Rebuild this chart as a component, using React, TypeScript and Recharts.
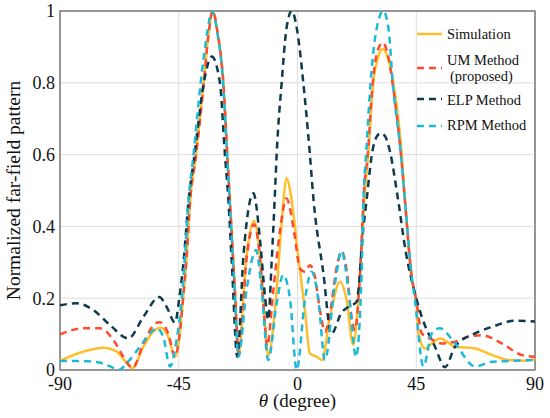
import { LineChart, Line, XAxis, YAxis, CartesianGrid, ReferenceArea, Legend, Label } from 'recharts';

// theta (degree) vs normalized far-field pattern
const thetaTicks = [-90, -45, 0, 45, 90];
const valueTicks = [0, 0.2, 0.4, 0.6, 0.8, 1];

const simulation: [number, number][] = [
  [-90, 0.026], [-81.2, 0.051], [-73.6, 0.062], [-68.5, 0.051], [-64.7, 0.019], [-62.5, 0.005],
  [-58.4, 0.065], [-54.5, 0.108], [-51.7, 0.118], [-49, 0.093], [-46.4, 0.037], [-44.5, 0.11],
  [-43.3, 0.204], [-42, 0.316], [-40.7, 0.47], [-38.5, 0.6], [-35.6, 0.8], [-33.8, 0.93],
  [-32.1, 1.0], [-30.3, 0.94], [-28.1, 0.8], [-26.6, 0.6], [-25.6, 0.47], [-23.7, 0.22],
  [-22.4, 0.04], [-19.3, 0.32], [-16.5, 0.416], [-14.2, 0.316], [-12.3, 0.13], [-11.1, 0.04],
  [-7.9, 0.223], [-6, 0.41], [-4.1, 0.535], [-2.8, 0.5], [0.3, 0.316], [2.8, 0.167],
  [4.7, 0.046], [7.3, 0.037], [9.2, 0.028], [12.3, 0.148], [16.1, 0.246], [18.6, 0.195],
  [21.1, 0.07], [23.7, 0.27], [25.6, 0.5], [26.8, 0.6], [28.7, 0.8], [30.5, 0.87],
  [32.3, 0.894], [34.2, 0.87], [36.3, 0.8], [39.5, 0.6], [40.7, 0.474], [43.3, 0.25],
  [45, 0.195], [45.8, 0.102], [48.3, 0.06], [50.9, 0.074], [54, 0.088], [59.7, 0.065],
  [67.3, 0.06], [73.6, 0.042], [79.9, 0.028], [86.2, 0.026], [90, 0.03],
];

const umMethod: [number, number][] = [
  [-90, 0.099], [-81.2, 0.116], [-74.8, 0.116], [-69.8, 0.084], [-66, 0.037], [-62.5, 0.006],
  [-58.4, 0.074], [-54.5, 0.125], [-52.4, 0.133], [-49, 0.102], [-46.4, 0.037], [-44.5, 0.11],
  [-43.3, 0.204], [-42, 0.316], [-40.7, 0.47], [-38.4, 0.6], [-35.5, 0.8], [-33.8, 0.93],
  [-32.1, 1.0], [-30.3, 0.94], [-28.1, 0.8], [-26.6, 0.6], [-25.6, 0.47], [-23.7, 0.22],
  [-22.2, 0.045], [-19.3, 0.31], [-16.5, 0.406], [-14.2, 0.31], [-12.5, 0.14], [-11.5, 0.065],
  [-9.2, 0.22], [-6.6, 0.39], [-4.2, 0.478], [-1.2, 0.38], [0.9, 0.283], [2.8, 0.274],
  [4.7, 0.292], [6.6, 0.26], [8.5, 0.167], [10.4, 0.107], [12.3, 0.158], [14.9, 0.288],
  [16.7, 0.33], [18.6, 0.279], [20.5, 0.148], [21.8, 0.111], [23.7, 0.27], [25.2, 0.5],
  [26.6, 0.6], [28.5, 0.8], [30.4, 0.89], [32.3, 0.912], [34.2, 0.88], [36, 0.8],
  [39.2, 0.6], [40.7, 0.474], [43.3, 0.26], [45, 0.195], [47.1, 0.102], [50.9, 0.085],
  [54.6, 0.074], [59.7, 0.079], [64.7, 0.093], [69.8, 0.097], [77.4, 0.074], [85, 0.042],
  [90, 0.037],
];

const elpMethod: [number, number][] = [
  [-90, 0.18], [-83.7, 0.186], [-77.4, 0.167], [-71, 0.125], [-64.1, 0.088], [-58.4, 0.148],
  [-52.4, 0.203], [-49.6, 0.176], [-46.4, 0.132], [-44.8, 0.2], [-43.2, 0.3], [-41.3, 0.47],
  [-39, 0.6], [-35.5, 0.8], [-32.5, 0.873], [-29.4, 0.8], [-27.5, 0.6], [-26.2, 0.474],
  [-24.9, 0.3], [-22.8, 0.037], [-20.5, 0.316], [-16.7, 0.492], [-14.2, 0.362], [-12.3, 0.204],
  [-11.1, 0.14], [-9.8, 0.3], [-8.5, 0.5], [-7.9, 0.6], [-6, 0.8], [-4.2, 0.95],
  [-2.2, 1.0], [0, 0.94], [2.2, 0.8], [4.7, 0.6], [6, 0.48], [9.8, 0.27],
  [12.8, 0.1], [16.7, 0.16], [19.3, 0.176], [22.4, 0.19], [23.2, 0.23], [24.5, 0.36],
  [26.2, 0.474], [28.4, 0.61], [30, 0.65], [31.6, 0.66], [33.3, 0.65], [35, 0.61],
  [38.2, 0.47], [41, 0.33], [45, 0.2], [47.1, 0.148], [52.1, 0.065], [55.9, 0.008],
  [59.7, 0.065], [67.3, 0.102], [73.6, 0.12], [82.4, 0.137], [90, 0.135],
];

const rpmMethod: [number, number][] = [
  [-90, 0.025], [-81.2, 0.025], [-74.8, 0.02], [-71, 0.01], [-67.9, 0.0], [-64, 0.025],
  [-59.7, 0.065], [-55.5, 0.105], [-53.4, 0.116], [-50.9, 0.093], [-48.3, 0.01], [-45.8, 0.084],
  [-43.9, 0.195], [-42.6, 0.32], [-41.3, 0.47], [-39.4, 0.6], [-36.7, 0.8], [-34.4, 0.93],
  [-32.4, 1.0], [-30.4, 0.94], [-28.2, 0.8], [-26.7, 0.6], [-25.7, 0.47], [-23.8, 0.22],
  [-22.4, 0.037], [-19.3, 0.223], [-15.7, 0.334], [-13.6, 0.223], [-11.1, 0.028], [-7.9, 0.186],
  [-5.4, 0.265], [-2.8, 0.195], [-0.3, 0.0], [2.8, 0.195], [5.4, 0.274], [7.9, 0.195],
  [10.4, 0.028], [14.2, 0.241], [16.7, 0.331], [19.3, 0.223], [22.2, 0.037], [24.3, 0.27],
  [25, 0.474], [26, 0.6], [27.7, 0.8], [29.5, 0.93], [32.5, 1.0], [34.5, 0.95],
  [36.1, 0.8], [39.2, 0.6], [40.7, 0.474], [43.3, 0.26], [44.5, 0.195], [47.7, 0.01],
  [50.9, 0.102], [54, 0.116], [59.7, 0.074], [67.3, 0.01], [73.6, 0.023], [79.9, 0.025],
  [90, 0.028],
];

const toPoints = (pairs: [number, number][]) => pairs.map(([theta, value]) => ({ theta, value }));

const SERIES = [
  { name: 'Simulation', pairs: simulation, color: '#FFBE2C', dash: undefined },
  { name: 'UM Method', pairs: umMethod, color: '#FF4B2B', dash: '7 5' },
  { name: 'ELP Method', pairs: elpMethod, color: '#0E3A4D', dash: '7 5' },
  { name: 'RPM Method', pairs: rpmMethod, color: '#1DBAD8', dash: '7 5' },
];

const FONT = '"Liberation Serif", "Times New Roman", serif';

function ChartLegend() {
  const rows = [
    { s: SERIES[0], lineY: 14, labels: [{ t: 'Simulation', x: 37, y: 14 }] },
    { s: SERIES[1], lineY: 48, labels: [{ t: 'UM Method', x: 37, y: 40 }, { t: '(proposed)', x: 40, y: 56 }] },
    { s: SERIES[2], lineY: 79, labels: [{ t: 'ELP Method', x: 37, y: 80 }] },
    { s: SERIES[3], lineY: 106, labels: [{ t: 'RPM Method', x: 37, y: 105 }] },
  ];
  return (
    <svg width={135} height={120} style={{ display: 'block', overflow: 'visible' }}>
      {rows.map((r) => (
        <g key={r.s.name}>
          <line x1={7} x2={32} y1={r.lineY} y2={r.lineY} stroke={r.s.color} strokeWidth={2.5} strokeDasharray={r.s.dash} />
          {r.labels.map((l) => (
            <text key={l.t} x={l.x} y={l.y} dominantBaseline="central" fontFamily={FONT} fontSize={14.5} fill="#111">
              {l.t}
            </text>
          ))}
        </g>
      ))}
    </svg>
  );
}

export default function App() {
  const tickStyle = { fontFamily: FONT, fontSize: 18, fill: '#111' };
  return (
    <div style={{ width: 550, height: 418 }}>
      <style>{'body{margin:0}'}</style>
      <LineChart width={550} height={418} margin={{ top: 11, right: 15, bottom: 0, left: 0 }}>
        <CartesianGrid stroke="#dedede" strokeWidth={1} />
        <XAxis
          dataKey="theta"
          type="number"
          domain={[-90, 90]}
          ticks={thetaTicks}
          allowDataOverflow
          axisLine={false}
          tickLine={false}
          tickSize={5}
          tickMargin={2}
          height={48}
          tick={tickStyle}
        >
          <Label
            content={(props: any) => {
              const vb = props.viewBox;
              return (
                <text x={vb.x + vb.width / 2} y={vb.y + 37} textAnchor="middle" fontFamily={FONT} fontSize={19} fill="#111">
                  <tspan fontStyle="italic">θ</tspan> (degree)
                </text>
              );
            }}
          />
        </XAxis>
        <YAxis
          type="number"
          domain={[0, 1]}
          ticks={valueTicks}
          allowDataOverflow
          axisLine={false}
          tickLine={false}
          tickSize={4}
          tickMargin={1}
          width={60}
          tick={tickStyle}
          tickFormatter={(v: number) => String(v)}
        >
          <Label
            content={(props: any) => {
              const vb = props.viewBox;
              const cx = vb.x + 13;
              const cy = vb.y + vb.height / 2;
              return (
                <text
                  transform={`translate(${cx},${cy}) rotate(-90)`}
                  textAnchor="middle"
                  dominantBaseline="central"
                  fontFamily={FONT}
                  fontSize={19.5}
                  fill="#111"
                >
                  Normalized far-field pattern
                </text>
              );
            }}
          />
        </YAxis>
        <ReferenceArea x1={-90} x2={90} y1={0} y2={1} fill="none" stroke="#7a7a7a" strokeWidth={1.5} />
        {SERIES.map((s) => (
          <Line
            key={s.name}
            name={s.name}
            data={toPoints(s.pairs)}
            dataKey="value"
            type="monotone"
            stroke={s.color}
            strokeWidth={2.5}
            strokeDasharray={s.dash}
            dot={false}
            activeDot={false}
            isAnimationActive={false}
          />
        ))}
        <Legend
          layout="horizontal"
          verticalAlign="middle"
          align="center"
          wrapperStyle={{ left: 410, top: 20, width: 135, height: 120 }}
          content={() => <ChartLegend />}
        />
      </LineChart>
    </div>
  );
}
